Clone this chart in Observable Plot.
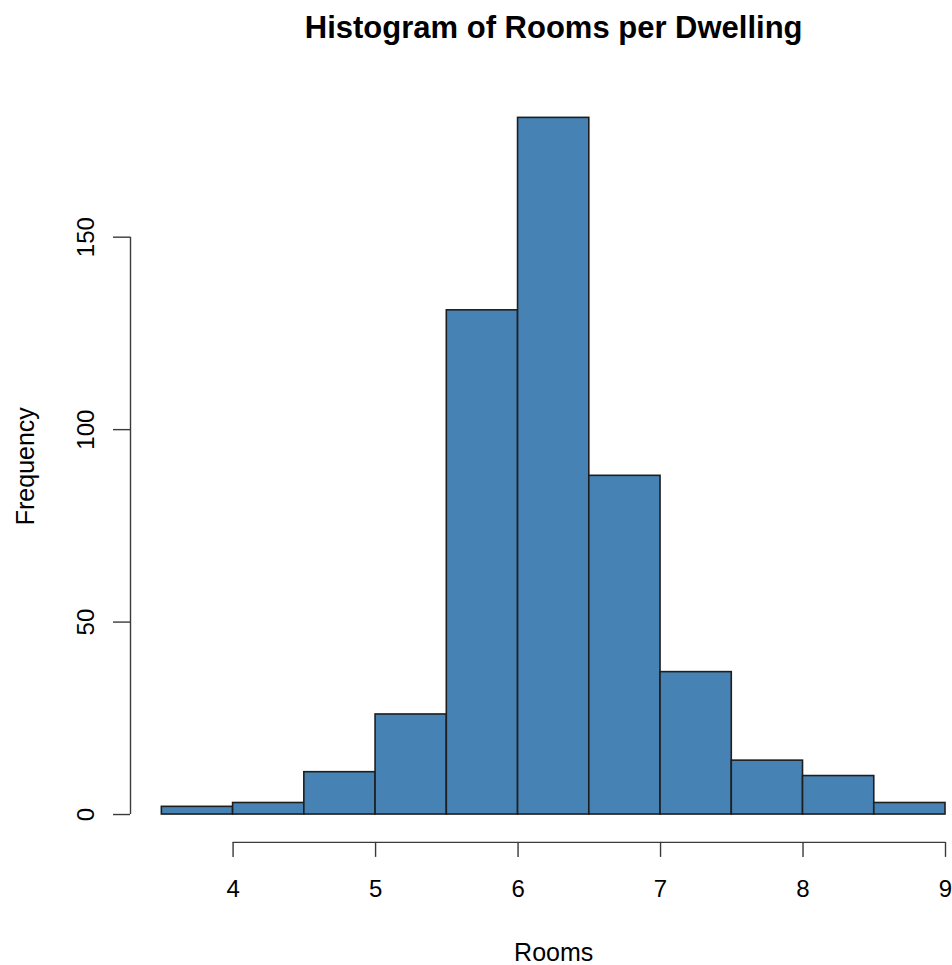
<!DOCTYPE html>
<html>
<head>
<meta charset="utf-8">
<script src="https://cdn.jsdelivr.net/npm/d3@7"></script>
<script src="https://cdn.jsdelivr.net/npm/@observablehq/plot@0.6"></script>
<style>
  html, body { margin: 0; padding: 0; background: #ffffff; }
  #chart svg { display: block; }
</style>
</head>
<body>
<div id="chart"></div>
<script>
// ---- data ----
const title = "Histogram of Rooms per Dwelling";
const xLabel = "Rooms";
const yLabel = "Frequency";
const binEdges = [3.5, 4, 4.5, 5, 5.5, 6, 6.5, 7, 7.5, 8, 8.5, 9];
const counts   = [2, 3, 11, 26, 131, 181, 88, 37, 14, 10, 3];
const xTicks = [4, 5, 6, 7, 8, 9];
const yTicks = [0, 50, 100, 150];

// ---- derived ----
const bars = counts.map((c, i) => ({x1: binEdges[i], x2: binEdges[i + 1], count: c}));
const xMin = binEdges[0], xMax = binEdges[binEdges.length - 1];
const xPad = 0.04 * (xMax - xMin);
const yMax = d3.max(counts);
const yPad = 0.04 * yMax;
const xLo = xMin - xPad, xHi = xMax + xPad;
const yLo = -yPad, yHi = yMax + yPad;

const W = 952, H = 965;
const mLeft = 130, mRight = -24.35, mTop = 89.5, mBottom = 123.1;
const font = "'Liberation Sans', Arial, Helvetica, sans-serif";

const chart = Plot.plot({
  width: W,
  height: H,
  marginLeft: mLeft,
  marginRight: mRight,
  marginTop: mTop,
  marginBottom: mBottom,
  style: {fontFamily: font, background: "#ffffff", color: "#000000", overflow: "visible"},
  x: {domain: [xLo, xHi], range: [mLeft, W - mRight]},
  y: {domain: [yLo, yHi], range: [H - mBottom, mTop]},
  marks: [
    Plot.rect(bars, {
      x1: "x1", x2: "x2", y1: () => 0, y2: "count",
      fill: "#4682B4", stroke: "#1e1e1e", strokeWidth: 1.6
    }),
    // x axis
    Plot.ruleY([yLo], {x1: xTicks[0], x2: xTicks[xTicks.length - 1], stroke: "#3a3a3a", strokeWidth: 1.4}),
    Plot.axisX({ticks: xTicks, tickSize: 15, tickPadding: 23, fontSize: 24, stroke: "#3a3a3a", strokeWidth: 1.4, tickFormat: d => String(d), label: null}),
    // y axis
    Plot.ruleX([xLo], {y1: yTicks[0], y2: yTicks[yTicks.length - 1], stroke: "#3a3a3a", strokeWidth: 1.4}),
    Plot.axisY({ticks: yTicks, tickSize: 17, stroke: "#3a3a3a", strokeWidth: 1.4, tickFormat: () => "", label: null}),
    Plot.text(yTicks, {
      y: d => d, text: d => String(d), frameAnchor: "left",
      rotate: -90, textAnchor: "middle", lineAnchor: "bottom",
      dx: -37, fontSize: 24, fill: "#000000"
    }),
    // axis titles
    Plot.text([yLabel], {
      text: d => d, frameAnchor: "left", rotate: -90,
      textAnchor: "middle", lineAnchor: "bottom",
      dx: -97, fontSize: 25, fill: "#000000"
    }),
    Plot.text([xLabel], {
      text: d => d, frameAnchor: "bottom", textAnchor: "middle",
      lineAnchor: "bottom", dy: 119, fontSize: 25, fill: "#000000"
    }),
    // title
    Plot.text([title], {
      text: d => d, frameAnchor: "top", textAnchor: "middle",
      lineAnchor: "bottom", dy: -52.5, fontSize: 31, fontWeight: "bold", fill: "#000000"
    })
  ]
});

document.getElementById("chart").appendChild(chart);
</script>
</body>
</html>
